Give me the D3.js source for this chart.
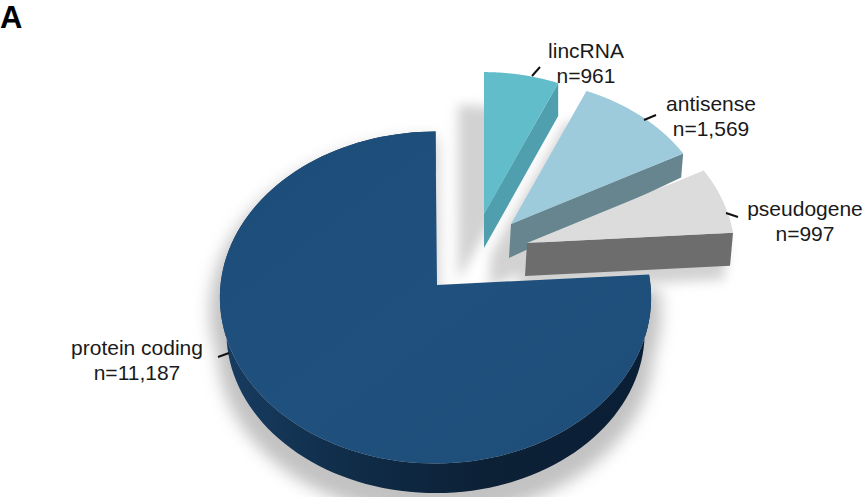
<!DOCTYPE html>
<html>
<head>
<meta charset="utf-8">
<script src="https://cdn.jsdelivr.net/npm/d3@7"></script>
<style>
html, body { margin: 0; padding: 0; background: #fff; }
text { font-family: "Liberation Sans", Arial, sans-serif; fill: #1a1a1a; }
</style>
</head>
<body>
<script>
// data, clockwise from 12 o'clock
var categories = ['lincRNA', 'antisense', 'pseudogene', 'protein coding'];
var counts = [961, 1569, 997, 11187];
var countLabels = ['n=961', 'n=1,569', 'n=997', 'n=11,187'];

var width = 868, height = 497;

// look of each slice, same order as categories
var topColors = ['#62bdca', '#9dcbdc', '#dcdcdc', '#1e4e7b'];
var wallColors = ['#4f9fae', '#66858f', '#6d6d6d', '#0f2a45'];
var apexes = [[484, 214], [511, 224], [527, 243], [437, 285]];
var sizes = [0.925, 0.94, 0.965, 1];
var rimShift = [0, 0, 0, -1.5];
var wallNear = [[0, 34], [-2, 34], [-2, 33]];
var wallFar = [[0, 33], [-2, 24], [-3, 33]];
var shadowShift = [[-26, 33], [-20, 30], [-6, 14], [0, 14]];

// label placement
var labelX = [586, 711, 805, 137];
var labelY = [58, 111, 216, 355];
var leaders = [
  [[532, 76], [540, 67]],
  [[644, 120], [656, 115]],
  [[726, 213], [738, 217]],
  [[218, 357], [229, 353]]
];

var rx = 215, ry = 165, tilt = 0.0755;

var svg = d3.select('body').append('svg')
    .attr('width', width)
    .attr('height', height)
    .style('display', 'block');

var defs = svg.append('defs');
defs.append('filter').attr('id', 'blur')
    .attr('x', '-30%').attr('y', '-30%').attr('width', '160%').attr('height', '160%')
  .append('feGaussianBlur').attr('stdDeviation', 8);
defs.append('filter').attr('id', 'blurSmall')
    .attr('x', '-30%').attr('y', '-30%').attr('width', '160%').attr('height', '160%')
  .append('feGaussianBlur').attr('stdDeviation', 6);

var wallGrad = defs.append('linearGradient').attr('id', 'mainWall')
    .attr('gradientUnits', 'userSpaceOnUse')
    .attr('x1', 225).attr('x2', 650).attr('y1', 0).attr('y2', 0);
wallGrad.append('stop').attr('offset', 0).attr('stop-color', '#173c60');
wallGrad.append('stop').attr('offset', 0.3).attr('stop-color', '#102c48');
wallGrad.append('stop').attr('offset', 0.6).attr('stop-color', '#0c2136');
wallGrad.append('stop').attr('offset', 1).attr('stop-color', '#0a1f35');

var topGrad = defs.append('linearGradient').attr('id', 'mainTop')
    .attr('x1', 0).attr('x2', 1).attr('y1', 0).attr('y2', 1);
topGrad.append('stop').attr('offset', 0).attr('stop-color', '#1c4c78');
topGrad.append('stop').attr('offset', 0.5).attr('stop-color', '#20507d');
topGrad.append('stop').attr('offset', 1).attr('stop-color', '#1d4d78');

var pie = d3.pie().sort(null).value(function(d) { return d; });
var slices = pie(counts);

var line = d3.line();

// disc angle (0 = up, clockwise) to screen, slightly foreshortened towards the back
function project(angle, i) {
  var u = Math.sin(angle), v = Math.cos(angle), w = 1 + tilt * v;
  return [
    apexes[i][0] + rimShift[i] + sizes[i] * rx * u / w,
    apexes[i][1] - sizes[i] * ry * v / w
  ];
}

function rim(s, i) {
  return d3.range(0, 121).map(function(k) {
    return project(s.startAngle + (s.endAngle - s.startAngle) * k / 120, i);
  });
}

// the big slice: same rim, a bit smaller and lower for the bottom of the wall
function lowered(points, i) {
  return points.map(function(p) {
    return [
      apexes[i][0] + (p[0] - apexes[i][0]) * 0.97,
      apexes[i][1] + 35 + (p[1] - apexes[i][1]) * 0.97
    ];
  });
}

function facePath(s, i) {
  return line([apexes[i]].concat(rim(s, i))) + 'Z';
}

function wallPath(s, i) {
  var end = project(s.endAngle, i);
  var a = apexes[i];
  return line([
    a, end,
    [end[0] + wallFar[i][0], end[1] + wallFar[i][1]],
    [a[0] + wallNear[i][0], a[1] + wallNear[i][1]]
  ]) + 'Z';
}

// shadows first, everything else sits over them
var shadows = svg.append('g').attr('filter', 'url(#blur)').attr('fill', '#c2c2c2');
var sliceShadows = svg.append('g').attr('filter', 'url(#blurSmall)').attr('fill', '#d2d2d2');
slices.forEach(function(s, i) {
  if (i == 3) {
    var g = shadows.append('g');
    var r = rim(s, i), l = lowered(r, i).reverse();
    g.attr('transform', 'translate(437,300) scale(1.045) translate(-437,-300) translate(0,' + shadowShift[i][1] + ')');
    g.append('path').attr('d', line(r.concat(l)) + 'Z');
    g.append('path').attr('d', facePath(s, i));
  } else {
    var g2 = sliceShadows.append('g')
        .attr('transform', 'translate(' + shadowShift[i] + ')');
    g2.append('path').attr('d', facePath(s, i));
    g2.append('path').attr('d', wallPath(s, i));
  }
});

// walls and top faces
var marks = svg.append('g');
slices.forEach(function(s, i) {
  var g = marks.append('g').attr('class', 'slice');
  if (i == 3) {
    var r = rim(s, i), l = lowered(r, i).reverse();
    g.append('path')
        .attr('d', line(r.concat(l)) + 'Z')
        .attr('fill', 'url(#mainWall)');
  } else {
    g.append('path')
        .attr('d', wallPath(s, i))
        .attr('fill', wallColors[i]);
  }
  g.append('path')
      .attr('d', facePath(s, i))
      .attr('fill', i == 3 ? 'url(#mainTop)' : topColors[i]);
});

// labels
var labels = svg.append('g');
categories.forEach(function(c, i) {
  labels.append('path')
      .attr('d', line(leaders[i]))
      .attr('stroke', '#111')
      .attr('stroke-width', 2)
      .attr('fill', 'none');
  labels.append('text')
      .attr('x', labelX[i]).attr('y', labelY[i])
      .attr('text-anchor', 'middle')
      .style('font-size', '21px')
      .text(c);
  labels.append('text')
      .attr('x', labelX[i]).attr('y', labelY[i] + 24.5)
      .attr('text-anchor', 'middle')
      .style('font-size', '21px')
      .text(countLabels[i]);
});

svg.append('text')
    .attr('x', 0).attr('y', 28)
    .style('font-size', '31px')
    .style('font-weight', 'bold')
    .style('fill', '#000')
    .text('A');
</script>
</body>
</html>
